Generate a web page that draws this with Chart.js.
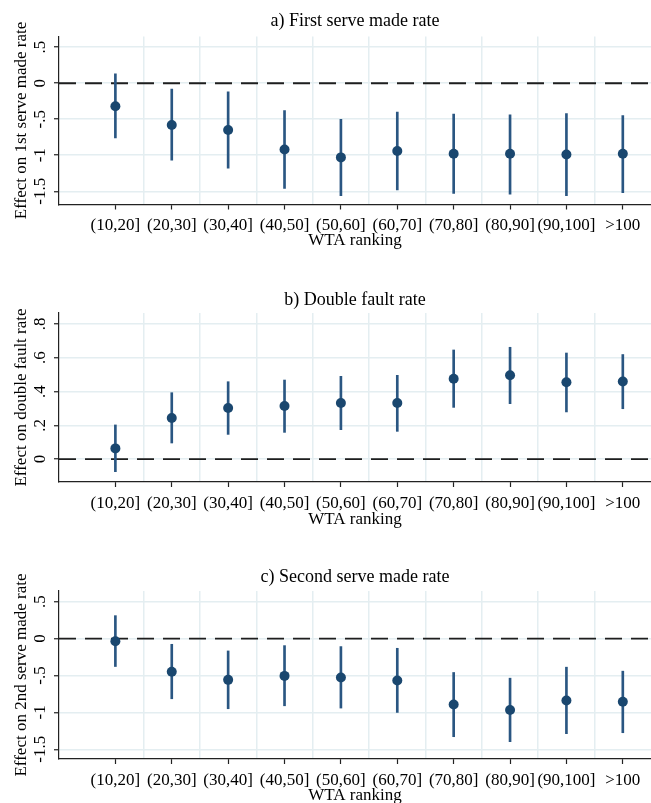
<!DOCTYPE html>
<html><head><meta charset="utf-8">
<script src="https://cdn.jsdelivr.net/npm/chart.js@4/dist/chart.umd.min.js"></script>
<style>
html,body{margin:0;padding:0;background:#fff;width:651px;height:803px;overflow:hidden;position:relative}
canvas{position:absolute;left:0;display:block}
</style></head><body>
<canvas id="ca" width="651" height="279" style="top:0px"></canvas>
<canvas id="cb" width="651" height="280" style="top:279px"></canvas>
<canvas id="cc" width="651" height="260" style="top:559px"></canvas>
<script>
const categories = ['(10,20]','(20,30]','(30,40]','(40,50]','(50,60]','(60,70]','(70,80]','(80,90]','(90,100]','>100'];

const firstServeEst = [-0.32,-0.58,-0.65,-0.92,-1.03,-0.94,-0.98,-0.98,-0.99,-0.98];
const firstServeLo  = [-0.76,-1.07,-1.18,-1.46,-1.56,-1.48,-1.53,-1.54,-1.56,-1.52];
const firstServeHi  = [0.13,-0.08,-0.12,-0.38,-0.50,-0.40,-0.43,-0.44,-0.42,-0.45];

const doubleFaultEst = [0.063,0.243,0.302,0.314,0.332,0.332,0.476,0.496,0.455,0.459];
const doubleFaultLo  = [-0.075,0.095,0.146,0.158,0.174,0.164,0.306,0.328,0.279,0.298];
const doubleFaultHi  = [0.202,0.393,0.458,0.468,0.490,0.496,0.646,0.662,0.628,0.619];

const secondServeEst = [-0.036,-0.450,-0.559,-0.505,-0.527,-0.568,-0.892,-0.968,-0.838,-0.856];
const secondServeLo  = [-0.378,-0.815,-0.950,-0.910,-0.941,-1.000,-1.329,-1.396,-1.288,-1.275];
const secondServeHi  = [0.311,-0.077,-0.167,-0.095,-0.108,-0.131,-0.459,-0.536,-0.387,-0.441];

const yTicksServe = [-1.5,-1,-0.5,0,0.5];
const yTicksFault = [0,0.2,0.4,0.6,0.8];

const FONT = "'Liberation Serif','Times New Roman','DejaVu Serif',serif";
const NAVY = '#1a476f';
const GRID = '#e4eef1';

function stataFmt(v){
  if (v === 0) return '0';
  let s = String(Math.round(v*100)/100);
  return s.replace(/^(-?)0\./,'$1.');
}

const rotY = {
  id:'rotY',
  afterDraw(chart){
    const s = chart.scales.y, ctx = chart.ctx;
    ctx.save();
    ctx.fillStyle = '#000';
    ctx.font = '17px ' + FONT;
    ctx.textAlign = 'center';
    ctx.textBaseline = 'alphabetic';
    s.ticks.forEach(t => {
      const y = s.getPixelForValue(t.value);
      ctx.save();
      ctx.translate(44.5, y);
      ctx.rotate(-Math.PI/2);
      ctx.fillText(stataFmt(t.value), 0, 0);
      ctx.restore();
    });
    ctx.restore();
  }
};

function makePanel(id, cfg){
  const n = categories.length;
  const pos = categories.map((c,i)=>i+1);
  const H = document.getElementById(id).height;
  new Chart(document.getElementById(id), {
    type: 'scatter',
    data: {
      datasets: [
        { type:'scatter', label:'est', data: pos.map((x,i)=>({x, y: cfg.est[i]})),
          backgroundColor: NAVY, borderColor: NAVY, pointRadius: 5, pointHoverRadius: 5, borderWidth: 0, order: 1 },
        { type:'bar', label:'ci', data: pos.map((x,i)=>({x, y:[cfg.lo[i], cfg.hi[i]]})),
          backgroundColor: '#2a5682', barThickness: 2, grouped: false, borderWidth: 0, order: 2 },
        { type:'line', label:'zero', data: [{x:0,y:0},{x:n+0.5,y:0}],
          borderColor: '#1e1e1e', borderWidth: 1.8, borderDash: [17,9], pointRadius: 0, fill: false, order: 3 }
      ]
    },
    options: {
      responsive: false,
      animation: false,
      events: [],
      layout: { padding: 0, autoPadding: false },
      plugins: {
        legend: { display: false },
        tooltip: { enabled: false },
        title: { display: true, text: cfg.title, fullSize: false, color: '#000',
          font: { family: FONT, size: 18, weight: 'normal', lineHeight: 1.2 },
          padding: { top: cfg.tPadTop, bottom: cfg.tPadBottom } }
      },
      scales: {
        x: {
          type: 'linear', position: 'bottom', min: 0, max: n + 0.5, offset: false,
          afterBuildTicks: s => { s.ticks = pos.map(v => ({ value: v })); },
          ticks: { autoSkip: false, maxRotation: 0, minRotation: 0, color: '#000', padding: cfg.xLabPad,
            font: { family: FONT, size: 17 },
            callback: (v) => categories[Math.round(v) - 1] },
          grid: { drawOnChartArea: false, drawTicks: true, tickLength: 5, tickColor: '#222', tickWidth: 1.2, offset: false },
          border: { display: true, color: '#222', width: 1.2 },
          title: { display: true, text: 'WTA ranking', color: '#000', font: { family: FONT, size: 17, lineHeight: 1.2 },
            padding: { top: 0, bottom: cfg.xTitlePad } },
          afterFit: s => { s.height = H - cfg.bottom; }
        },
        x2: {
          type: 'linear', position: 'bottom', min: 0, max: n + 0.5, offset: false,
          afterBuildTicks: s => { s.ticks = pos.slice(0, n - 1).map(v => ({ value: v + 0.5 })); },
          ticks: { display: false },
          grid: { color: GRID, lineWidth: 1.5, drawTicks: false, offset: false },
          border: { display: false },
          afterFit: s => { s.height = 0; }
        },
        y: {
          type: 'linear', min: cfg.yMin, max: cfg.yMax,
          afterBuildTicks: s => { s.ticks = cfg.yTicks.map(v => ({ value: v })); },
          ticks: { display: false },
          grid: { color: GRID, lineWidth: 1.5, drawTicks: true, tickLength: 5, tickColor: '#222', tickWidth: 1.2 },
          border: { display: true, color: '#222', width: 1.2 },
          title: { display: true, text: cfg.yTitle, color: '#000', font: { family: FONT, size: 17, lineHeight: 1.2 },
            padding: { top: 11.3, bottom: 0 } },
          afterFit: s => { s.width = 59; }
        }
      }
    },
    plugins: [rotY]
  });
}

makePanel('ca', { title: 'a) First serve made rate', yTitle: 'Effect on 1st serve made rate',
  est: firstServeEst, lo: firstServeLo, hi: firstServeHi, yTicks: yTicksServe,
  yMin: -1.684, yMax: 0.649, tPadTop: 10.7, tPadBottom: 4.2, bottom: 204.5, xLabPad: 6, xTitlePad: 27.8 });
makePanel('cb', { title: 'b) Double fault rate', yTitle: 'Effect on double fault rate',
  est: doubleFaultEst, lo: doubleFaultLo, hi: doubleFaultHi, yTicks: yTicksFault,
  yMin: -0.136, yMax: 0.865, tPadTop: 10.2, tPadBottom: 2.2, bottom: 203, xLabPad: 6, xTitlePad: 29.5 });
makePanel('cc', { title: 'c) Second serve made rate', yTitle: 'Effect on 2nd serve made rate',
  est: secondServeEst, lo: secondServeLo, hi: secondServeHi, yTicks: yTicksServe,
  yMin: -1.631, yMax: 0.645, tPadTop: 7.2, tPadBottom: 3.2, bottom: 200, xLabPad: 6, xTitlePad: 13.3 });
</script>
</body></html>
